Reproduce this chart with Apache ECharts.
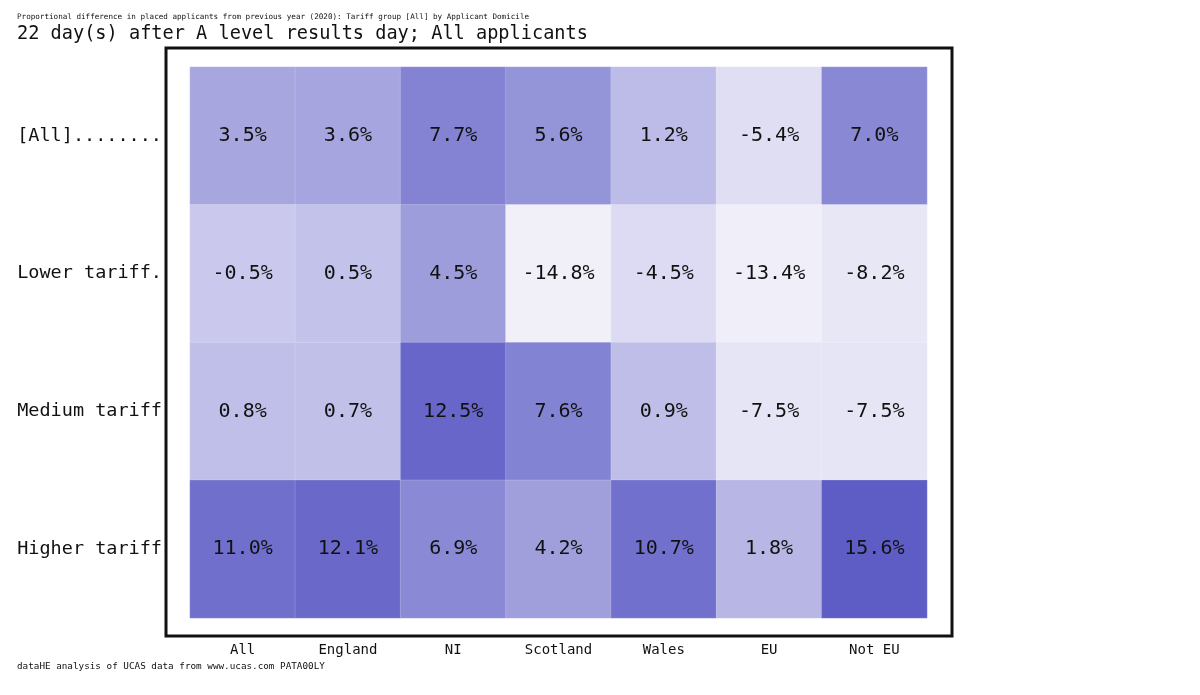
<!DOCTYPE html>
<html>
<head>
<meta charset="utf-8">
<script src="https://cdn.jsdelivr.net/npm/echarts@6/dist/echarts.min.js"></script>
<style>html,body{margin:0;padding:0;background:#fff;}#c{width:1200px;height:695px;}</style>
</head>
<body>
<div id="c"></div>
<script>
const domiciles = ['All', 'England', 'NI', 'Scotland', 'Wales', 'EU', 'Not EU'];
const tariffLabels = ['[All]........', 'Lower tariff.', 'Medium tariff', 'Higher tariff'];
const rowAll    = [3.5, 3.6, 7.7, 5.6, 1.2, -5.4, 7.0];
const rowLower  = [-0.5, 0.5, 4.5, -14.8, -4.5, -13.4, -8.2];
const rowMedium = [0.8, 0.7, 12.5, 7.6, 0.9, -7.5, -7.5];
const rowHigher = [11.0, 12.1, 6.9, 4.2, 10.7, 1.8, 15.6];
const colourStops = ['#f2f1fa', '#eeedf8', '#e8e7f6', '#dad9f2', '#c8c7ec', '#a2a1dd', '#8080d2', '#6a69c9', '#5d5cc5'];

const rows = [rowAll, rowLower, rowMedium, rowHigher];
const data = [];
rows.forEach((r, yi) => r.forEach((v, xi) => data.push([xi, yi, v])));

const FONT = "'DejaVu Sans Mono', 'Liberation Mono', monospace";
const chart = echarts.init(document.getElementById('c'));
chart.setOption({
  animation: false,
  backgroundColor: '#fff',
  textStyle: { fontFamily: FONT },
  title: [
    { text: 'Proportional difference in placed applicants from previous year (2020): Tariff group [All] by Applicant Domicile',
      left: 17, top: 13, padding: 0,
      textStyle: { fontFamily: FONT, fontSize: 7.6, fontWeight: 'normal', color: '#111' } },
    { text: '22 day(s) after A level results day; All applicants',
      left: 17, top: 25, padding: 0,
      textStyle: { fontFamily: FONT, fontSize: 18.6, fontWeight: 'normal', color: '#111' } },
    { text: 'dataHE analysis of UCAS data from www.ucas.com PATA00LY',
      left: 17, top: 662, padding: 0,
      textStyle: { fontFamily: FONT, fontSize: 9.3, fontWeight: 'normal', color: '#111' } }
  ],
  grid: { left: 190, right: 273, top: 67, bottom: 77 },
  xAxis: {
    type: 'category', data: domiciles,
    axisLine: { show: false }, axisTick: { show: false }, splitLine: { show: false },
    axisLabel: { fontFamily: FONT, fontSize: 14, color: '#111', margin: 25 }
  },
  yAxis: {
    type: 'category', data: tariffLabels, inverse: true,
    axisLine: { show: false }, axisTick: { show: false }, splitLine: { show: false },
    axisLabel: { fontFamily: FONT, fontSize: 18.5, color: '#111', margin: 28 }
  },
  visualMap: {
    show: false, type: 'continuous', min: -16, max: 16, dimension: 2,
    inRange: { color: colourStops }
  },
  series: [{
    type: 'heatmap',
    data: data,
    itemStyle: { borderColor: 'rgba(255,255,255,0.18)', borderWidth: 1 },
    label: {
      show: true, fontFamily: FONT, fontSize: 20, color: '#111',
      formatter: p => p.value[2].toFixed(1) + '%'
    },
    emphasis: { disabled: true }
  }],
  graphic: [{
    type: 'rect', shape: { x: 166, y: 48, width: 786, height: 588 },
    style: { fill: 'none', stroke: '#111', lineWidth: 3 }, z: 100
  }]
});
</script>
</body>
</html>
